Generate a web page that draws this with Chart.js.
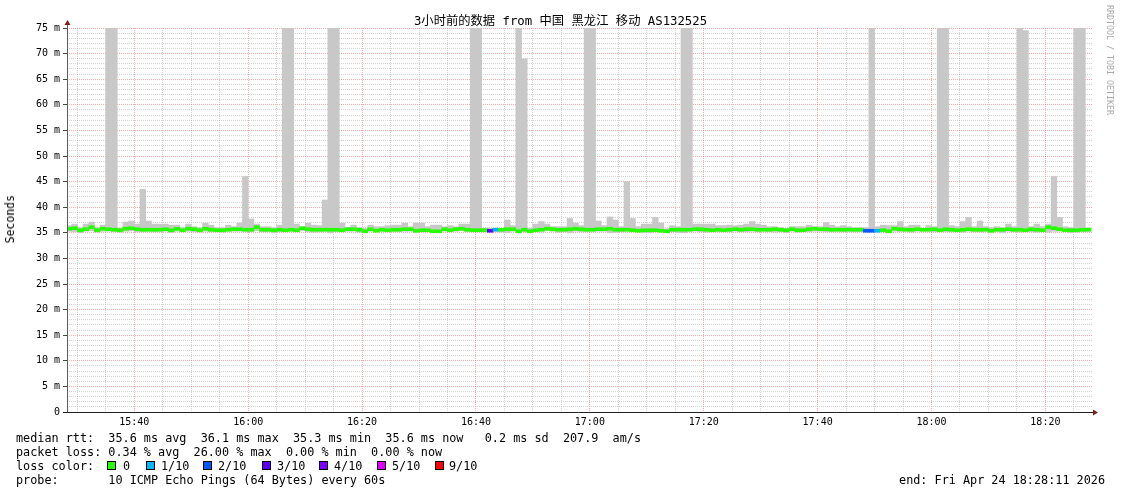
<!DOCTYPE html>
<html><head><meta charset="utf-8">
<script src="https://cdn.jsdelivr.net/npm/chart.js@4.4.1/dist/chart.umd.min.js"></script>
<style>
html,body{margin:0;padding:0;background:#fff;}
#wrap{position:relative;width:1121px;height:494px;overflow:hidden;background:#fff;}
#c{position:absolute;left:0;top:0;}
.t{position:absolute;font-family:'DejaVu Sans Mono','Noto Sans CJK SC',monospace;color:#000;white-space:pre;}
.leg{font-size:11.8px;line-height:14px;left:16px;}
.sq{position:absolute;width:7px;height:7px;border:1px solid #000;}
</style></head>
<body>
<div id="wrap">
<canvas id="c" width="1121" height="494"></canvas>
<div class="t" id="title" style="left:0;width:1121px;text-align:center;top:13px;font-size:12.3px;line-height:16px;">3小时前的数据 from 中国 黑龙江 移动 AS132525</div>
<div class="t" style="left:3px;top:195px;font-size:11.5px;line-height:14px;writing-mode:vertical-rl;transform:rotate(180deg);">Seconds</div>
<div class="t" style="left:1104px;top:5px;font-size:8.3px;line-height:12px;color:#aaa;writing-mode:vertical-rl;">RRDTOOL / TOBI OETIKER</div>
<div class="t leg" style="top:431px;">median rtt:  35.6 ms avg  36.1 ms max  35.3 ms min  35.6 ms now   0.2 ms sd  207.9  am/s</div>
<div class="t leg" style="top:445px;">packet loss: 0.34 % avg  26.00 % max  0.00 % min  0.00 % now</div>
<div class="t leg" style="top:459px;">loss color:</div>
<div id="lossLegend"></div>
<div class="t leg" style="top:473px;">probe:       10 ICMP Echo Pings (64 Bytes) every 60s</div>
<div class="t" style="right:16px;top:473px;font-size:11.8px;line-height:14px;">end: Fri Apr 24 18:28:11 2026</div>
</div>
<script>
// ---- data ----
const axisStart = '15:28:11';
const axisEnd = '18:28:11';
const sampleTimes = [
 '15:28','15:29','15:30','15:31','15:32','15:33','15:34','15:35','15:36','15:37',
 '15:38','15:39','15:40','15:41','15:42','15:43','15:44','15:45','15:46','15:47',
 '15:48','15:49','15:50','15:51','15:52','15:53','15:54','15:55','15:56','15:57',
 '15:58','15:59','16:00','16:01','16:02','16:03','16:04','16:05','16:06','16:07',
 '16:08','16:09','16:10','16:11','16:12','16:13','16:14','16:15','16:16','16:17',
 '16:18','16:19','16:20','16:21','16:22','16:23','16:24','16:25','16:26','16:27',
 '16:28','16:29','16:30','16:31','16:32','16:33','16:34','16:35','16:36','16:37',
 '16:38','16:39','16:40','16:41','16:42','16:43','16:44','16:45','16:46','16:47',
 '16:48','16:49','16:50','16:51','16:52','16:53','16:54','16:55','16:56','16:57',
 '16:58','16:59','17:00','17:01','17:02','17:03','17:04','17:05','17:06','17:07',
 '17:08','17:09','17:10','17:11','17:12','17:13','17:14','17:15','17:16','17:17',
 '17:18','17:19','17:20','17:21','17:22','17:23','17:24','17:25','17:26','17:27',
 '17:28','17:29','17:30','17:31','17:32','17:33','17:34','17:35','17:36','17:37',
 '17:38','17:39','17:40','17:41','17:42','17:43','17:44','17:45','17:46','17:47',
 '17:48','17:49','17:50','17:51','17:52','17:53','17:54','17:55','17:56','17:57',
 '17:58','17:59','18:00','18:01','18:02','18:03','18:04','18:05','18:06','18:07',
 '18:08','18:09','18:10','18:11','18:12','18:13','18:14','18:15','18:16','18:17',
 '18:18','18:19','18:20','18:21','18:22','18:23','18:24','18:25','18:26','18:27'
];
// max ping per sample (ms), top of the smoke
const smokeHi = [
 36.4,36.7,36.0,36.7,37.1,36.0,36.5,75,75,35.9,
 37.1,37.3,36.7,43.5,37.3,36.7,36.7,36.7,36.5,36.5,
 36.0,36.7,36.2,36.0,36.9,36.5,36.0,36.0,36.5,36.2,
 36.9,46.0,37.7,36.7,36.2,36.2,36.0,36.5,75,75,
 36.7,36.2,36.9,36.5,36.4,41.4,75,75,36.9,36.0,
 36.5,36.0,35.9,36.5,36.2,36.2,36.4,36.5,36.5,36.9,
 36.2,36.9,36.9,36.2,36.5,36.5,36.2,36.4,36.2,36.7,
 36.7,75,75,35.9,35.9,35.9,35.9,37.5,36.4,75,
 69.0,35.9,36.7,37.2,36.7,36.2,36.2,36.2,37.8,36.9,
 36.4,75,75,37.3,36.4,38.1,37.5,36.2,45.0,37.8,
 36.2,36.7,36.7,38.0,36.9,35.8,36.4,36.2,75,75,
 36.7,36.7,36.7,36.7,36.4,36.4,36.5,36.4,36.5,36.7,
 37.2,36.7,36.5,36.2,36.2,36.0,35.8,36.2,36.2,36.2,
 36.5,36.2,36.2,37.0,36.5,36.2,36.4,36.2,36.0,36.0,
 36.0,75,36.2,36.5,36.4,36.4,37.2,36.2,36.5,36.5,
 35.8,36.4,36.2,75,75,36.4,36.2,37.2,38.0,36.2,
 37.3,36.2,36.0,36.2,36.0,36.7,36.2,75,74.5,36.2,
 36.7,36.2,36.7,46.0,38.0,36.2,36.0,75,75,35.9
];
// min ping per sample (ms), bottom of the smoke
const smokeLo = [
 35.3,35.2,35.0,35.3,35.4,35.1,35.3,35.3,35.2,35.1,
 35.3,35.4,35.2,35.2,35.3,35.2,35.3,35.3,35.0,35.3,
 35.2,35.3,35.2,35.1,35.3,35.2,35.2,35.1,35.3,35.3,
 35.3,35.3,35.2,35.4,35.2,35.2,35.0,35.3,35.2,35.3,
 35.2,35.4,35.2,35.1,35.2,35.3,35.0,35.2,35.2,35.3,
 35.3,35.1,35.0,35.3,35.2,35.3,35.2,35.2,35.2,35.3,
 35.3,35.1,35.2,35.2,35.0,35.0,35.3,35.2,35.3,35.4,
 35.2,35.2,35.2,35.2,35.2,35.3,35.1,35.0,35.3,35.0,
 35.2,35.0,35.2,35.3,35.4,35.3,35.1,35.2,35.0,35.3,
 35.2,35.2,35.3,35.3,35.3,35.0,35.1,35.2,35.3,35.2,
 35.3,35.0,35.0,35.2,35.3,35.1,35.2,35.0,35.0,35.3,
 35.3,35.2,35.1,35.3,35.2,35.3,35.2,35.3,35.2,35.2,
 35.3,35.2,35.3,35.2,35.1,35.2,35.0,35.3,35.1,35.3,
 35.2,35.3,35.3,35.2,35.2,35.3,35.2,35.3,35.2,35.2,
 35.2,35.2,35.2,35.3,35.0,35.3,35.2,35.3,35.1,35.3,
 35.3,35.3,35.2,35.3,35.2,35.2,35.3,35.1,35.3,35.2,
 35.2,35.3,35.1,35.2,35.0,35.3,35.2,35.1,35.3,35.2,
 35.1,35.3,35.1,35.3,35.3,35.2,35.0,35.1,35.2,35.3
];
// median rtt per sample (ms)
const medianRtt = [
 35.8,35.9,35.5,35.7,36.1,35.5,35.8,35.7,35.6,35.5,
 35.8,35.9,35.7,35.6,35.6,35.6,35.6,35.7,35.5,35.8,
 35.5,35.8,35.7,35.5,35.8,35.6,35.5,35.5,35.6,35.7,
 35.7,35.6,35.6,36.1,35.6,35.6,35.5,35.6,35.5,35.6,
 35.5,35.9,35.7,35.6,35.6,35.6,35.6,35.6,35.5,35.7,
 35.7,35.6,35.3,35.7,35.4,35.6,35.5,35.6,35.6,35.7,
 35.7,35.4,35.5,35.5,35.3,35.3,35.7,35.5,35.7,35.8,
 35.6,35.5,35.5,35.5,35.4,35.6,35.6,35.7,35.7,35.3,
 35.6,35.3,35.5,35.6,35.8,35.7,35.6,35.6,35.7,35.8,
 35.7,35.6,35.6,35.7,35.7,35.8,35.6,35.6,35.6,35.5,
 35.4,35.5,35.5,35.5,35.4,35.3,35.6,35.6,35.6,35.6,
 35.7,35.7,35.6,35.5,35.6,35.5,35.6,35.7,35.6,35.7,
 35.7,35.6,35.6,35.6,35.7,35.6,35.5,35.7,35.5,35.5,
 35.7,35.8,35.7,35.7,35.6,35.6,35.6,35.6,35.6,35.6,
 35.4,35.4,35.4,35.5,35.3,35.8,35.7,35.6,35.6,35.7,
 35.6,35.6,35.7,35.5,35.7,35.6,35.5,35.6,35.7,35.6,
 35.6,35.6,35.4,35.6,35.6,35.7,35.6,35.6,35.5,35.7,
 35.6,35.5,36.1,35.9,35.7,35.5,35.5,35.5,35.6,35.6
];
// lost pings out of 10 per sample
const lossTenths = [
 0,0,0,0,0,0,0,0,0,0, 0,0,0,0,0,0,0,0,0,0, 0,0,0,0,0,0,0,0,0,0,
 0,0,0,0,0,0,0,0,0,0, 0,0,0,0,0,0,0,0,0,0, 0,0,0,0,0,0,0,0,0,0,
 0,0,0,0,0,0,0,0,0,0, 0,0,0,0,3,1,0,0,0,0, 0,0,0,0,0,0,0,0,0,0,
 0,0,0,0,0,0,0,0,0,0, 0,0,0,0,0,0,0,0,0,0, 0,0,0,0,0,0,0,0,0,0,
 0,0,0,0,0,0,0,0,0,0, 0,0,0,0,0,0,0,0,0,0, 2,2,1,0,0,0,0,0,0,0,
 0,0,0,0,0,0,0,0,0,0, 0,0,0,0,0,0,0,0,0,0, 0,0,0,0,0,0,0,0,0,0
];
const lossLevels = [0, 1, 2, 3, 4, 5, 9];
const lossLabels = ['0', '1/10', '2/10', '3/10', '4/10', '5/10', '9/10'];
const lossColors = ['#26ff00', '#00b8ff', '#0059ff', '#5e00ff', '#7e00ff', '#dd00ff', '#ff0000'];
const xTickTimes = ['15:40', '16:00', '16:20', '16:40', '17:00', '17:20', '17:40', '18:00', '18:20'];
const yTickValues = [0, 5, 10, 15, 20, 25, 30, 35, 40, 45, 50, 55, 60, 65, 70, 75];

// ---- helpers ----
function toMin(t) { const p = t.split(':').map(Number); return (p[0] - 15) * 60 + p[1] + (p[2] || 0) / 60; }
const xMin = toMin(axisStart), xMax = toMin(axisEnd);
const xTickMinutes = xTickTimes.map(toMin);
const xGrid = []; for (let v = Math.ceil(xMin / 5) * 5; v <= xMax; v += 5) xGrid.push(v);
const yGrid = []; for (let v = 0; v <= 75; v++) yGrid.push(v);
const colorOfLoss = l => lossColors[lossLevels.indexOf(l)];
const GRID = 'rgba(150,150,150,0.42)';
const MGRID = 'rgba(230,90,90,0.5)';

// loss color legend (HTML)
const sqX = [107, 146, 203, 262, 319, 377, 435];
const lbX = [123, 161, 218, 277, 334, 392, 449];
const ll = document.getElementById('lossLegend');
lossLabels.forEach((lab, i) => {
  const s = document.createElement('div'); s.className = 'sq';
  s.style.left = sqX[i] + 'px'; s.style.top = '461px'; s.style.background = lossColors[i];
  ll.appendChild(s);
  const t = document.createElement('div'); t.className = 't leg';
  t.style.left = lbX[i] + 'px'; t.style.top = '459px'; t.textContent = lab;
  ll.appendChild(t);
});

const axisPlugin = {
  id: 'rrdAxes',
  afterDraw(chart) {
    const { ctx, chartArea: a } = chart;
    ctx.save();
    ctx.lineWidth = 1;
    ctx.strokeStyle = '#5a5a5a';
    ctx.beginPath(); ctx.moveTo(a.left + 0.5, a.bottom); ctx.lineTo(a.left + 0.5, a.top - 4); ctx.stroke();
    ctx.strokeStyle = '#1f1f1f';
    ctx.beginPath(); ctx.moveTo(a.left - 4, a.bottom + 0.5); ctx.lineTo(a.right + 2, a.bottom + 0.5); ctx.stroke();
    ctx.fillStyle = 'rgb(128,31,31)';
    ctx.beginPath(); ctx.moveTo(a.left + 0.5, a.top - 8); ctx.lineTo(a.left - 2.5, a.top - 3); ctx.lineTo(a.left + 3.5, a.top - 3); ctx.closePath(); ctx.fill();
    ctx.beginPath(); ctx.moveTo(a.right + 6, a.bottom + 0.5); ctx.lineTo(a.right + 1, a.bottom - 2.5); ctx.lineTo(a.right + 1, a.bottom + 3.5); ctx.closePath(); ctx.fill();
    ctx.restore();
  }
};

new Chart(document.getElementById('c'), {
  type: 'bar',
  data: {
    datasets: [
      {
        label: 'smoke',
        data: sampleTimes.map((t, i) => ({ x: toMin(t) + 0.5, y: [smokeLo[i], smokeHi[i]] })),
        backgroundColor: '#c8c8c8',
        borderWidth: 0, barPercentage: 1, categoryPercentage: 1, grouped: false, order: 2
      },
      {
        label: 'median rtt',
        data: sampleTimes.map((t, i) => ({ x: toMin(t) + 0.5, y: [medianRtt[i] - 0.29, medianRtt[i] + 0.29] })),
        backgroundColor: lossTenths.map(colorOfLoss),
        borderWidth: 0, barPercentage: 1, categoryPercentage: 1, grouped: false, order: 1
      }
    ]
  },
  options: {
    responsive: false, animation: false, devicePixelRatio: 1, events: [],
    layout: { padding: { left: 0, top: 28, right: 29, bottom: 0 } },
    plugins: { legend: { display: false }, title: { display: false }, tooltip: { enabled: false } },
    scales: {
      x: {
        type: 'linear', min: xMin, max: xMax, offset: false,
        afterBuildTicks: s => { s.ticks = xGrid.map(v => ({ value: v })); },
        afterFit: s => { s.height = 82; },
        grid: { offset: false, drawTicks: false, lineWidth: 1,
          color: c => (xTickMinutes.includes(c.tick.value) ? MGRID : GRID) },
        border: { display: false, dash: [1, 1] },
        ticks: { autoSkip: false, maxRotation: 0, padding: 4, color: '#000',
          font: { family: 'DejaVu Sans Mono', size: 10 },
          callback: v => { const i = xTickMinutes.indexOf(v); return i >= 0 ? xTickTimes[i] : ''; } }
      },
      y: {
        type: 'linear', min: 0, max: 75,
        afterBuildTicks: s => { s.ticks = yGrid.map(v => ({ value: v })); },
        afterFit: s => { s.width = 67; },
        grid: { drawTicks: true, tickLength: 4, lineWidth: 1,
          color: c => (yTickValues.includes(c.tick.value) ? MGRID : GRID),
          tickColor: c => (yTickValues.includes(c.tick.value) ? '#444' : 'rgba(0,0,0,0)') },
        border: { display: false, dash: [1, 1] },
        ticks: { autoSkip: false, padding: 3, color: '#000',
          font: { family: 'DejaVu Sans Mono', size: 10 },
          callback: v => (yTickValues.includes(v) ? (v === 0 ? '0' : v + ' m') : '') }
      }
    }
  },
  plugins: [axisPlugin]
});
</script>
</body></html>
